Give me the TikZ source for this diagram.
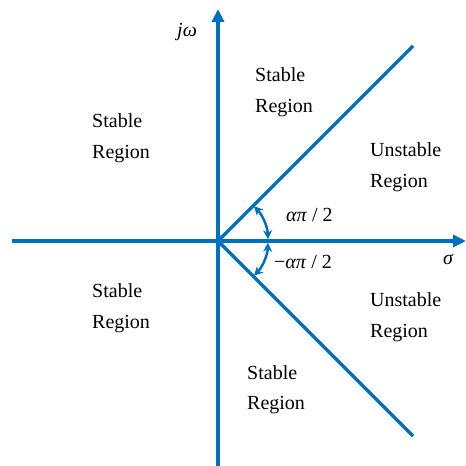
\documentclass[tikz,border=0pt]{standalone}
\usepackage{fontspec}
\setmainfont{Liberation Serif}
\usetikzlibrary{arrows.meta}
\definecolor{axisblue}{RGB}{0,112,192}

\begin{document}
\begin{tikzpicture}[x=1pt,y=1pt,
  axis/.style={axisblue, line width=4pt, -{Triangle[length=13pt, width=12pt]}},
  boundary/.style={axisblue, line width=3.5pt},
  angarc/.style={axisblue, line width=2.5pt, {Stealth[length=9pt, width=9pt]}-{Stealth[length=9pt, width=9pt]}},
  region/.style={anchor=base west, align=left, inner sep=0pt, font=\fontsize{20}{31}\selectfont},
  lbl/.style={anchor=base west, inner sep=0pt, font=\fontsize{20}{24}\selectfont}]
\useasboundingbox (0,0) rectangle (466,466);
\coordinate (O) at (218,225);
\coordinate (xl) at (12,225);
\coordinate (xr) at (466,225);
\coordinate (yb) at (218,0);
\coordinate (yt) at (218,457);
\coordinate (up) at (413,420);
\coordinate (dn) at (413,30);
% axes and stability boundary
\draw[axis] (xl) -- (xr);
\draw[axis] (yb) -- (yt);
\draw[boundary] (O) -- (up);
\draw[boundary] (O) -- (dn);
% angle arcs
\draw[angarc] (O) ++(44:50) arc[start angle=44, end angle=2, radius=50];
\draw[angarc] (O) ++(-2:50) arc[start angle=-2, end angle=-44, radius=50];
% labels (base anchor sits on the last line)
\node[lbl] (jw) at (177,429) {\textit{jω}};
\node[lbl] (sig) at (443,201) {\textit{σ}};
\node[lbl] (pos) at (286,244) {\textit{απ} / 2};
\node[lbl] (neg) at (274,197) {−\textit{απ} / 2};
\node[region] (ul) at (92,307) {Stable\\Region};
\node[region] (um) at (255,353) {Stable\\Region};
\node[region] (ur) at (370,278) {Unstable\\Region};
\node[region] (ll) at (92,137) {Stable\\Region};
\node[region] (lr) at (370,128) {Unstable\\Region};
\node[region] (lm) at (247,56) {Stable\\Region};
\end{tikzpicture}
\end{document}
